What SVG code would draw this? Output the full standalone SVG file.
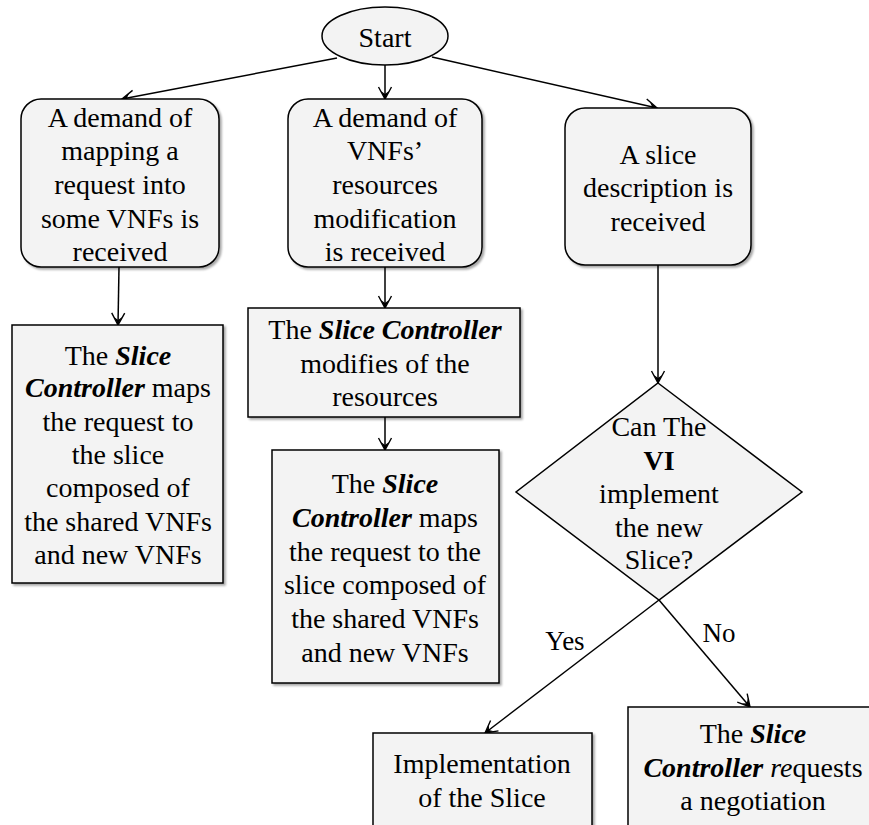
<svg xmlns="http://www.w3.org/2000/svg" width="869" height="825" viewBox="0 0 869 825">
  <defs>
    <filter id="shadow" x="-5%" y="-5%" width="115%" height="115%">
      <feDropShadow dx="2" dy="2" stdDeviation="1" flood-color="#000" flood-opacity="0.35"/>
    </filter>
    <marker id="arrow" viewBox="-14 -8 16 16" refX="0" refY="0" markerWidth="16" markerHeight="16" markerUnits="userSpaceOnUse" orient="auto">
      <path d="M-12,-6.5 L0,0 L-12,6.5" fill="none" stroke="#000" stroke-width="1.4"/>
      <path d="M-8,-4 L0,0 L-8,4 L-5,0 z" fill="#000"/>
    </marker>
  </defs>
  <style>
    .box { fill: #f3f3f3; stroke: #000; stroke-width: 1.5; }
    .shape { fill: #f3f3f3; stroke: #000; stroke-width: 1.5; }
    .link { stroke: #000; stroke-width: 1.5; fill: none; marker-end: url(#arrow); }
  </style>
  <rect width="869" height="825" fill="#fff"/>

  <!-- connectors -->
  <g id="connectors">
    <line class="link" x1="337" y1="58" x2="122" y2="99"/>
    <line class="link" x1="385" y1="65" x2="385" y2="99"/>
    <line class="link" x1="432" y1="57" x2="657" y2="108"/>
    <line class="link" x1="119" y1="267" x2="118" y2="325"/>
    <line class="link" x1="385" y1="267" x2="385" y2="308"/>
    <line class="link" x1="385" y1="417" x2="385" y2="450"/>
    <line class="link" x1="658" y1="265" x2="658" y2="383"/>
    <line class="link" x1="659" y1="600" x2="485" y2="733"/>
    <line class="link" x1="659" y1="600" x2="750" y2="707"/>
    <text x="565" y="650" font-family="Liberation Serif" font-size="27" text-anchor="middle">Yes</text>
    <text x="719" y="642" font-family="Liberation Serif" font-size="27" text-anchor="middle">No</text>
  </g>

  <g id="start">
    <ellipse class="shape" cx="385" cy="36" rx="63" ry="29"/>
    <text x="385" y="47" font-family="Liberation Serif" font-size="28" text-anchor="middle">Start</text>
  </g>

  <g id="mapping-demand">
    <rect class="box" filter="url(#shadow)" x="21" y="99" width="198" height="168" rx="20"/>
    <g font-family="Liberation Serif" font-size="28" text-anchor="middle">
      <text x="120" y="127">A demand of</text>
      <text x="120" y="160">mapping a</text>
      <text x="120" y="194">request into</text>
      <text x="120" y="228">some VNFs is</text>
      <text x="120" y="261">received</text>
    </g>
  </g>

  <g id="modification-demand">
    <rect class="box" filter="url(#shadow)" x="288" y="99" width="194" height="168" rx="20"/>
    <g font-family="Liberation Serif" font-size="28" text-anchor="middle">
      <text x="385" y="127">A demand of</text>
      <text x="385" y="160">VNFs’</text>
      <text x="385" y="194">resources</text>
      <text x="385" y="228">modification</text>
      <text x="385" y="261">is received</text>
    </g>
  </g>

  <g id="slice-description">
    <rect class="box" filter="url(#shadow)" x="565" y="108" width="186" height="157" rx="20"/>
    <g font-family="Liberation Serif" font-size="28" text-anchor="middle">
      <text x="658" y="164">A slice</text>
      <text x="658" y="197">description is</text>
      <text x="658" y="231">received</text>
    </g>
  </g>

  <g id="map-shared">
    <rect class="box" filter="url(#shadow)" x="12" y="325" width="211" height="258"/>
    <g font-family="Liberation Serif" font-size="28" text-anchor="middle">
      <text x="118" y="365">The <tspan font-weight="bold" font-style="italic">Slice</tspan></text>
      <text x="118" y="397"><tspan font-weight="bold" font-style="italic">Controller</tspan> maps</text>
      <text x="118" y="431">the request to</text>
      <text x="118" y="464">the slice</text>
      <text x="118" y="497">composed of</text>
      <text x="118" y="531">the shared VNFs</text>
      <text x="118" y="564">and new VNFs</text>
    </g>
  </g>

  <g id="modify-resources">
    <rect class="box" filter="url(#shadow)" x="248" y="308" width="272" height="109"/>
    <g font-family="Liberation Serif" font-size="28" text-anchor="middle">
      <text x="385" y="339">The <tspan font-weight="bold" font-style="italic">Slice Controller</tspan></text>
      <text x="385" y="373">modifies of the</text>
      <text x="385" y="406">resources</text>
    </g>
  </g>

  <g id="map-modified">
    <rect class="box" filter="url(#shadow)" x="272" y="450" width="227" height="233"/>
    <g font-family="Liberation Serif" font-size="28" text-anchor="middle">
      <text x="385" y="493">The <tspan font-weight="bold" font-style="italic">Slice</tspan></text>
      <text x="385" y="527"><tspan font-weight="bold" font-style="italic">Controller</tspan> maps</text>
      <text x="385" y="561">the request to the</text>
      <text x="385" y="594">slice composed of</text>
      <text x="385" y="628">the shared VNFs</text>
      <text x="385" y="662">and new VNFs</text>
    </g>
  </g>

  <g id="decision">
    <polygon class="shape" points="658,383 802,492 659,600 516,492"/>
    <g font-family="Liberation Serif" font-size="28" text-anchor="middle">
      <text x="659" y="436">Can The</text>
      <text x="659" y="470" font-weight="bold">VI</text>
      <text x="659" y="503">implement</text>
      <text x="659" y="537">the new</text>
      <text x="659" y="569">Slice?</text>
    </g>
  </g>

  <g id="implementation">
    <rect class="box" filter="url(#shadow)" x="373" y="733" width="219" height="110"/>
    <g font-family="Liberation Serif" font-size="28" text-anchor="middle">
      <text x="482" y="773">Implementation</text>
      <text x="482" y="807">of the Slice</text>
    </g>
  </g>

  <g id="negotiation">
    <rect class="box" filter="url(#shadow)" x="628" y="707" width="252" height="130"/>
    <g font-family="Liberation Serif" font-size="28" text-anchor="middle">
      <text x="753" y="743">The <tspan font-weight="bold" font-style="italic">Slice</tspan></text>
      <text x="753" y="777"><tspan font-weight="bold" font-style="italic">Controller</tspan> <tspan font-style="italic">re</tspan>quests</text>
      <text x="753" y="810">a negotiation</text>
    </g>
  </g>
</svg>
